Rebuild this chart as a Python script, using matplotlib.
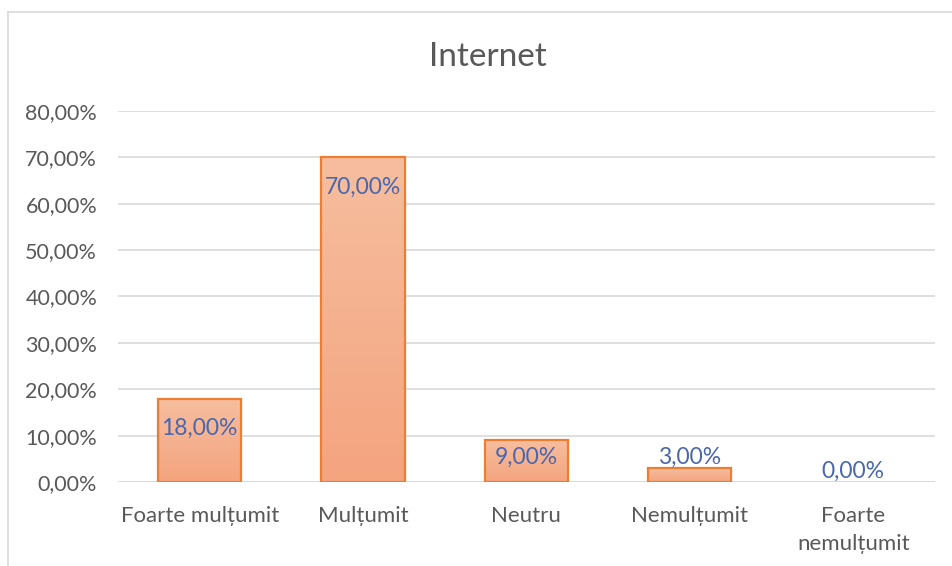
import numpy as np
import matplotlib.pyplot as plt
from matplotlib.lines import Line2D
from matplotlib.ticker import FuncFormatter
from matplotlib.colors import LinearSegmentedColormap

# data
categories = ["Foarte mulțumit", "Mulțumit", "Neutru", "Nemulțumit", "Foarte\nnemulțumit"]
values = [0.18, 0.70, 0.09, 0.03, 0.00]
y_ticks = [0.0, 0.1, 0.2, 0.3, 0.4, 0.5, 0.6, 0.7, 0.8]

plt.rcParams['font.family'] = ['Lato', 'DejaVu Sans']

fig = plt.figure(figsize=(9.53, 5.66), dpi=100)
ax = fig.add_axes([0.1238, 0.1484, 0.981 - 0.1238, 0.8039 - 0.1484])

# chart border (light grey, runs off the right and bottom)
fig.add_artist(Line2D([8 / 953, 8 / 953], [0, 1 - 12 / 566], color="#D9D9D9", lw=1.2, transform=fig.transFigure))
fig.add_artist(Line2D([8 / 953, 1], [1 - 12 / 566, 1 - 12 / 566], color="#D9D9D9", lw=1.2, transform=fig.transFigure))

x = np.arange(len(categories))
width = 0.51
edges = ["#ED7D31" if v > 0 else "none" for v in values]
bars = ax.bar(x, values, width=width, facecolor="none", edgecolor=edges, linewidth=1.6, zorder=3)

# gradient fill per bar
cmap = LinearSegmentedColormap.from_list("grad", ["#F4A47E", "#F6BE9F"])
grad = np.linspace(0, 1, 256).reshape(-1, 1)
for b in bars:
    h = b.get_height()
    if h <= 0:
        continue
    x0 = b.get_x()
    img = ax.imshow(grad, cmap=cmap, origin="lower", aspect="auto",
                    extent=[x0, x0 + b.get_width(), 0, h], zorder=2)
    img.set_clip_path(b)

ax.set_xlim(-0.5, len(categories) - 0.5)
ax.set_ylim(0, 0.8)
ax.set_yticks(y_ticks)
ax.yaxis.set_major_formatter(FuncFormatter(lambda v, p: f"{v * 100:.2f}%".replace(".", ",")))
ax.set_xticks(x)
ax.set_xticklabels(categories, linespacing=1.5)
ax.tick_params(axis="y", length=0, pad=15, labelsize=15.5, labelcolor="#595959")
ax.tick_params(axis="x", length=0, pad=17, labelsize=16, labelcolor="#595959")
ax.grid(axis="y", color="#D9D9D9", linewidth=1.2, zorder=0)
ax.set_axisbelow(True)
for s in ax.spines.values():
    s.set_visible(False)
ax.axhline(0, color="#D9D9D9", linewidth=1.2, zorder=1)

# data labels (Excel "inside end")
for xi, v in zip(x, values):
    txt = f"{v * 100:.2f}%".replace(".", ",")
    if v >= 0.15:
        ax.annotate(txt, (xi, v), xytext=(0, -21.5), textcoords="offset points",
                    ha="center", va="center", fontsize=16.5, color="#4A66AC", zorder=4)
    elif v >= 0.06:
        ax.annotate(txt, (xi, v), xytext=(0, -12), textcoords="offset points",
                    ha="center", va="center", fontsize=16.5, color="#4A66AC", zorder=4)
    else:
        ax.annotate(txt, (xi, v), xytext=(0, 0), textcoords="offset points",
                    ha="center", va="bottom", fontsize=16.5, color="#4A66AC", zorder=4)

fig.text(0.512, 1 - 57 / 566, "Internet", ha="center", va="center", fontsize=24, color="#595959")

fig.savefig("out.png", dpi=100, facecolor="white")
